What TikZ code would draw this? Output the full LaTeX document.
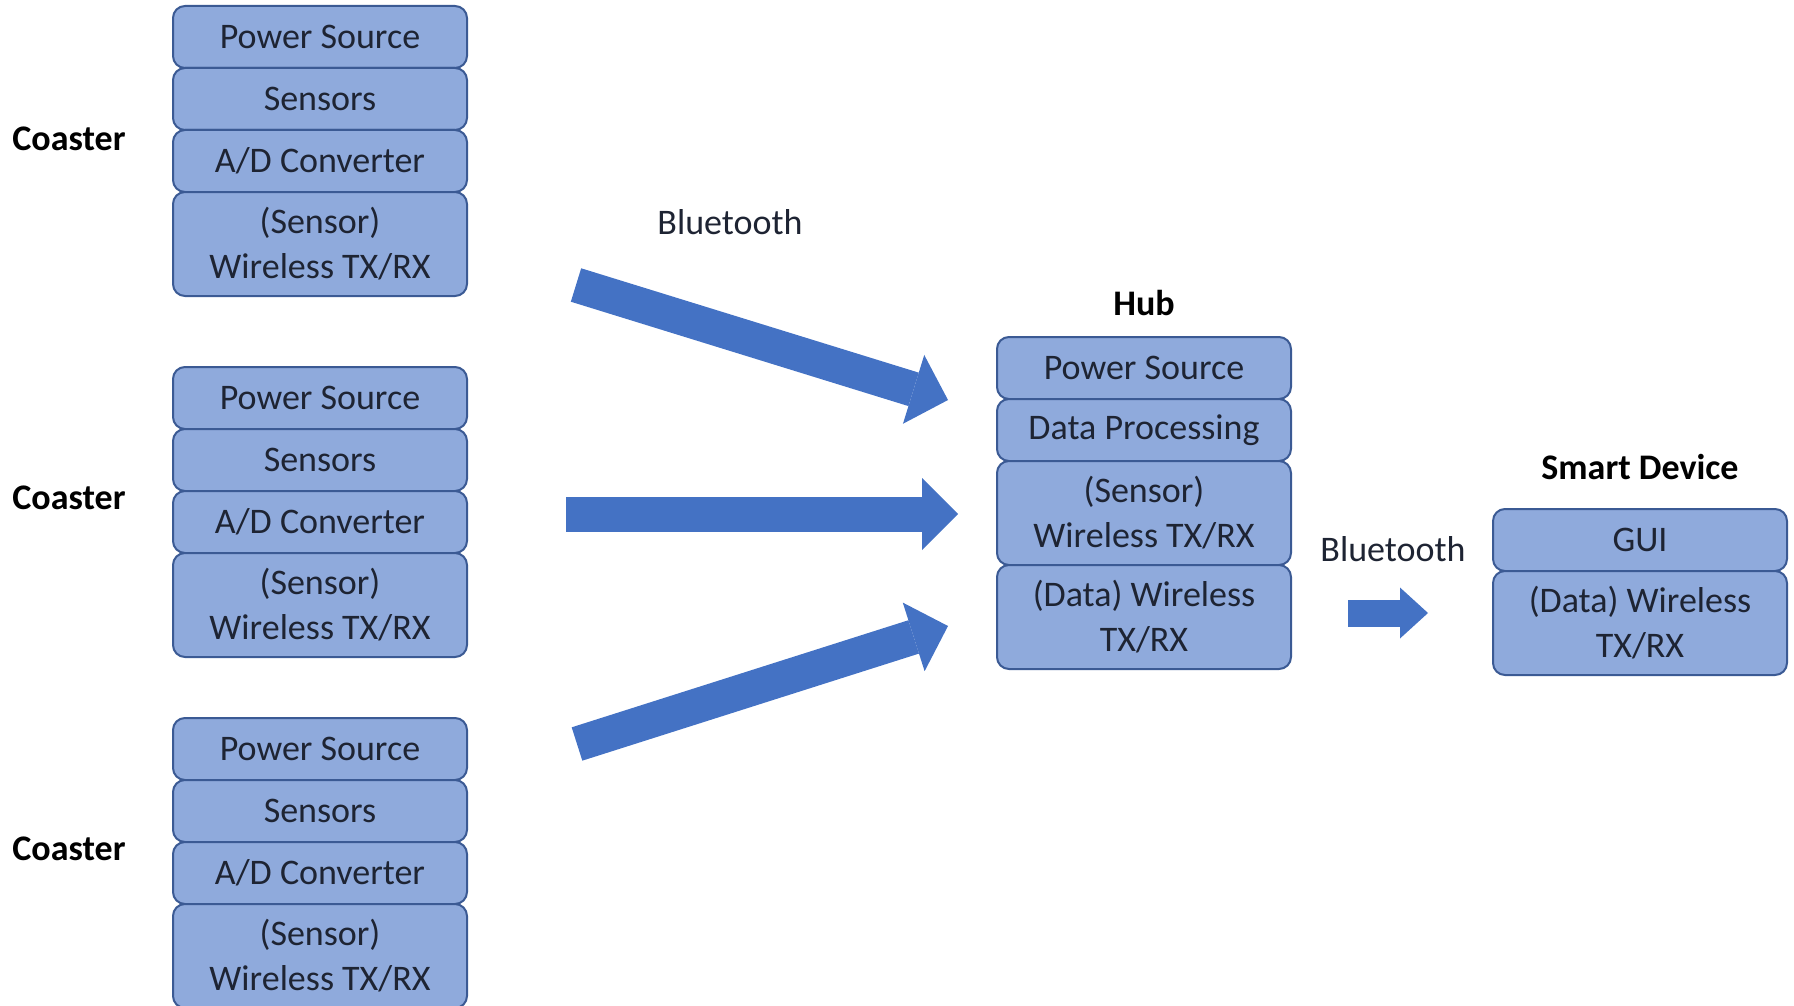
\documentclass[tikz,border=0pt]{standalone}
\usepackage{fontspec}
\setmainfont{Carlito}
\usepackage{xcolor}
\usetikzlibrary{arrows.meta,positioning}
\definecolor{layerfill}{HTML}{8FAADC}
\definecolor{layerline}{HTML}{3B5A94}
\definecolor{linkblue}{HTML}{4472C4}
\definecolor{textdark}{HTML}{1E2433}

\begin{document}
\begin{tikzpicture}[x=1pt, y=-1pt,
  layer/.style={draw=layerline, fill=layerfill, line width=2pt, rounded corners=12pt,
    minimum width=294pt, minimum height=62pt, outer sep=0pt, inner sep=0pt,
    align=center, text=textdark, font=\fontsize{36}{45}\selectfont},
  duallayer/.style={layer, minimum height=104pt},
  unitname/.style={font=\fontsize{36}{45}\selectfont\bfseries, text=black},
  linkname/.style={font=\fontsize{36}{45}\selectfont, text=textdark},
  biglink/.style={linkblue, line width=35pt,
    -{Triangle[width=72pt, length=36pt, line width=0pt]}},
  smalllink/.style={linkblue, line width=27pt,
    -{Triangle[width=51pt, length=28pt, line width=0pt]}}]
  \useasboundingbox (0,0) rectangle (1794,1006);

  % Coaster 1
  \node[layer, anchor=north west] (ap) at (173,6) {Power Source};
  \node[layer, below=0pt of ap] (as) {Sensors};
  \node[layer, below=0pt of as] (ad) {A/D Converter};
  \node[duallayer, below=0pt of ad] (aw) {(Sensor)\\Wireless TX/RX};
  \node[unitname] (alabel) at (69,139) {Coaster};

  % Coaster 2
  \node[layer, anchor=north west] (bp) at (173,367) {Power Source};
  \node[layer, below=0pt of bp] (bs) {Sensors};
  \node[layer, below=0pt of bs] (bd) {A/D Converter};
  \node[duallayer, below=0pt of bd] (bw) {(Sensor)\\Wireless TX/RX};
  \node[unitname] (blabel) at (69,498) {Coaster};

  % Coaster 3
  \node[layer, anchor=north west] (cp) at (173,718) {Power Source};
  \node[layer, below=0pt of cp] (cs) {Sensors};
  \node[layer, below=0pt of cs] (cd) {A/D Converter};
  \node[duallayer, below=0pt of cd] (cw) {(Sensor)\\Wireless TX/RX};
  \node[unitname] (clabel) at (69,849) {Coaster};

  % Hub
  \node[layer, anchor=north west] (hp) at (997,337) {Power Source};
  \node[layer, below=0pt of hp] (hd) {Data Processing};
  \node[duallayer, below=0pt of hd] (hs) {(Sensor)\\Wireless TX/RX};
  \node[duallayer, below=0pt of hs] (hw) {(Data) Wireless\\TX/RX};
  \node[unitname, above=18pt of hp] (hlabel) {Hub};

  % Smart device
  \node[layer, anchor=north west] (sg) at (1493,509) {GUI};
  \node[duallayer, below=0pt of sg] (sw) {(Data) Wireless\\TX/RX};
  \node[unitname, above=26pt of sg] (slabel) {Smart Device};

  % Bluetooth links
  \coordinate (atail) at (576,285);
  \coordinate (ahead) at (948,400);
  \coordinate (btail) at (566,514);
  \coordinate (bhead) at (958,514);
  \coordinate (ctail) at (577,744);
  \coordinate (chead) at (948,626);
  \coordinate (htail) at (1348,613);
  \coordinate (hhead) at (1428,613);
  \draw[biglink] (atail) -- (ahead);
  \draw[biglink] (btail) -- (bhead);
  \draw[biglink] (ctail) -- (chead);
  \draw[smalllink] (htail) -- (hhead);
  \node[linkname] (lefttag) at (730,222) {Bluetooth};
  \node[linkname] (righttag) at (1393,549) {Bluetooth};
\end{tikzpicture}
\end{document}
